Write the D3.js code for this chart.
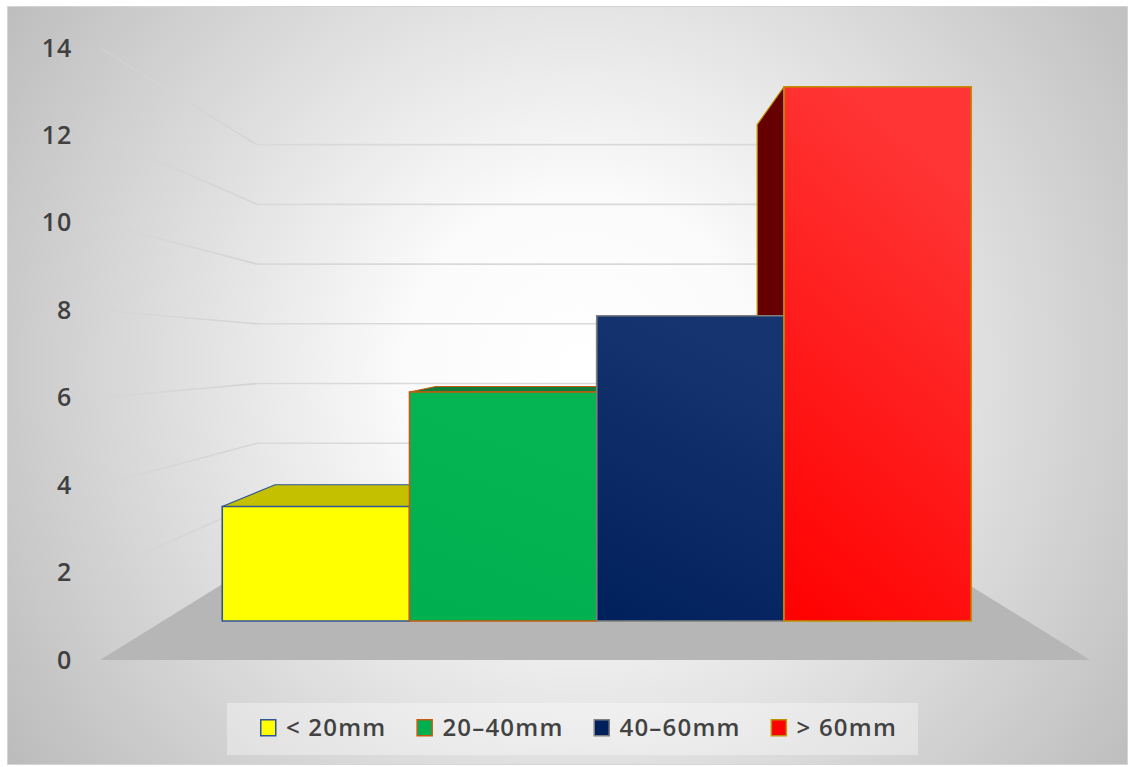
<!DOCTYPE html>
<html>
<head>
<meta charset="utf-8">
<script src="https://cdn.jsdelivr.net/npm/d3@7/dist/d3.min.js"></script>
<style>
  html, body { margin: 0; padding: 0; background: #ffffff; }
  svg { display: block; }
  text { font-family: "Open Sans", "Noto Sans", sans-serif; }
</style>
</head>
<body>
<svg id="chart" width="1129" height="767"></svg>
<script>
// Rainfall-size classes and their counts
const categories = ["< 20mm", "20–40mm", "40–60mm", "> 60mm"];
const values = [3, 6, 8, 14];
const tickValues = [0, 2, 4, 6, 8, 10, 12, 14];

// Face styling per series
const frontTop    = ["#ffff00", "#05b553", "#16346f", "#ff3434"];
const frontBottom = ["#ffff00", "#00b050", "#00205c", "#ff0000"];
const topColors   = ["#c4c000", "#0f7d38", "#0b2456", "#cc0000"];
const sideColors  = ["#8a8700", "#086b2e", "#071a40", "#660000"];
const strokeColors = ["#2f5597", "#c55a11", "#7f7f7f", "#bf9000"];

const W = 1129, H = 767;
const svg = d3.select("#chart");
const defs = svg.append("defs");

// Chart area background
const bg = defs.append("radialGradient").attr("id", "bgGrad")
  .attr("gradientUnits", "userSpaceOnUse")
  .attr("cx", 580).attr("cy", 370).attr("r", 690);
bg.append("stop").attr("offset", 0).attr("stop-color", "#ffffff");
bg.append("stop").attr("offset", 0.25).attr("stop-color", "#fbfbfb");
bg.append("stop").attr("offset", 1).attr("stop-color", "#bcbcbc");

svg.append("rect").attr("x", 7.5).attr("y", 6.5).attr("width", 1120).attr("height", 758)
  .attr("fill", "url(#bgGrad)").attr("stroke", "#d4d4d4").attr("stroke-width", 1);

// Perspective: front-plane coordinates shrink toward a vanishing point with depth
const VP = { x: 595, y: 353 };
const depth = d3.scaleLinear().domain([0, 1]).range([0, 0.464]); // 0 = front edge, 1 = back wall
const sAt = d => 1 / (1 + depth(d));
const proj = (xf, yf, d) => {
  const s = sAt(d);
  return [VP.x + (xf - VP.x) * s, VP.y + (yf - VP.y) * s];
};
const barFrontD = 0.3136, barBackD = 0.7220;

// Front-plane scales
const y = d3.scaleLinear().domain([0, 14]).range([660, 48]);
const plotX0 = 100, plotX1 = 1090;
const x = d3.scaleBand().domain(categories).range([168, 1026]).padding(0);

const poly = pts => "M" + pts.map(p => p.join(",")).join("L") + "Z";
const line = d3.line();

// Floor
const floorPts = [proj(plotX0, y(0), 0), proj(plotX1, y(0), 0), proj(plotX1, y(0), 1), proj(plotX0, y(0), 1)];
svg.append("path").attr("d", poly(floorPts)).attr("fill", "#b6b6b6");

// Gridlines on side wall (fading toward the viewer) and back wall
const sideGrad = defs.append("linearGradient").attr("id", "sideGrid")
  .attr("gradientUnits", "userSpaceOnUse")
  .attr("x1", plotX0).attr("x2", proj(plotX0, 0, 1)[0]).attr("y1", 0).attr("y2", 0);
sideGrad.append("stop").attr("offset", 0).attr("stop-color", "#d4d4d4").attr("stop-opacity", 0.55);
sideGrad.append("stop").attr("offset", 1).attr("stop-color", "#d4d4d4").attr("stop-opacity", 1);

const grid = svg.append("g").attr("class", "grid");
grid.selectAll("path.side").data(tickValues.filter(t => t > 0)).join("path")
  .attr("class", "side")
  .attr("d", t => line([proj(plotX0, y(t), 0), proj(plotX0, y(t), 1)]))
  .attr("fill", "none").attr("stroke", "url(#sideGrid)").attr("stroke-width", 1.6);
grid.selectAll("path.back").data(tickValues.filter(t => t > 0)).join("path")
  .attr("class", "back")
  .attr("d", t => line([proj(plotX0, y(t), 1), proj(plotX1, y(t), 1)]))
  .attr("fill", "none").attr("stroke", "#d9d9d9").attr("stroke-width", 1.6);

// Gradients for the bar front faces
categories.forEach((c, i) => {
  const g = defs.append("linearGradient").attr("id", "front" + i)
    .attr("x1", 0.3).attr("y1", 0).attr("x2", 0).attr("y2", 1);
  g.append("stop").attr("offset", 0).attr("stop-color", frontTop[i]);
  g.append("stop").attr("offset", 1).attr("stop-color", frontBottom[i]);
});

// Bars: build each face from the data through the scales
const bars = categories.map((c, i) => {
  const x0 = x(c), x1 = x(c) + x.bandwidth();
  const y0 = y(0), y1 = y(values[i]);
  return { i, x0, x1, y0, y1 };
});

const hidden = svg.append("g").attr("class", "bar-sides");
bars.forEach(b => {
  const i = b.i;
  const leftS = proj(b.x0, 0, barFrontD)[0], rightS = proj(b.x1, 0, barFrontD)[0];
  // side face visible on the side facing the vanishing point
  if (leftS > VP.x) {
    hidden.append("path").attr("d", poly([
      proj(b.x0, b.y0, barFrontD), proj(b.x0, b.y1, barFrontD),
      proj(b.x0, b.y1, barBackD), proj(b.x0, b.y0, barBackD)]))
      .attr("fill", sideColors[i]).attr("stroke", strokeColors[i]).attr("stroke-width", 1.2)
      .attr("stroke-linejoin", "round");
  } else if (rightS < VP.x) {
    hidden.append("path").attr("d", poly([
      proj(b.x1, b.y0, barFrontD), proj(b.x1, b.y1, barFrontD),
      proj(b.x1, b.y1, barBackD), proj(b.x1, b.y0, barBackD)]))
      .attr("fill", sideColors[i]).attr("stroke", strokeColors[i]).attr("stroke-width", 1.2)
      .attr("stroke-linejoin", "round");
  }
  // top face visible when the bar top is below the eye level
  if (proj(0, b.y1, barFrontD)[1] > VP.y) {
    hidden.append("path").attr("d", poly([
      proj(b.x0, b.y1, barFrontD), proj(b.x1, b.y1, barFrontD),
      proj(b.x1, b.y1, barBackD), proj(b.x0, b.y1, barBackD)]))
      .attr("fill", topColors[i]).attr("stroke", strokeColors[i]).attr("stroke-width", 1.2)
      .attr("stroke-linejoin", "round");
  }
});

svg.append("g").attr("class", "bar-fronts").selectAll("path").data(bars).join("path")
  .attr("d", b => poly([proj(b.x0, b.y0, barFrontD), proj(b.x1, b.y0, barFrontD),
                        proj(b.x1, b.y1, barFrontD), proj(b.x0, b.y1, barFrontD)]))
  .attr("fill", b => `url(#front${b.i})`)
  .attr("stroke", b => strokeColors[b.i]).attr("stroke-width", 1.6);

// Value axis
const axis = svg.append("g").attr("transform", `translate(${plotX0},0)`)
  .call(d3.axisLeft(y).tickValues(tickValues).tickSize(0).tickPadding(28).tickFormat(d3.format("d")));
axis.select(".domain").remove();
axis.selectAll("text")
  .attr("fill", "#404040").attr("font-size", 25).attr("font-weight", 600)
  .attr("letter-spacing", 0.8)
  .style("font-family", "'Open Sans', sans-serif");

// Legend
const legend = svg.append("g").attr("class", "legend");
legend.append("rect").attr("x", 227).attr("y", 703).attr("width", 691).attr("height", 52)
  .attr("fill", "#ffffff").attr("opacity", 0.35);
let lx = 260;
categories.forEach((c, i) => {
  const item = legend.append("g");
  item.append("rect").attr("x", lx + 0.75).attr("y", 719.75).attr("width", 15).attr("height", 16)
    .attr("fill", frontBottom[i]).attr("stroke", strokeColors[i]).attr("stroke-width", 1.5);
  const t = item.append("text").attr("x", lx + 26).attr("y", 736)
    .attr("fill", "#424242").attr("font-size", 24).attr("font-weight", 600)
    .attr("letter-spacing", 1.2)
    .text(c);
  lx += 26 + t.node().getComputedTextLength() + 30;
});
</script>
</body>
</html>
